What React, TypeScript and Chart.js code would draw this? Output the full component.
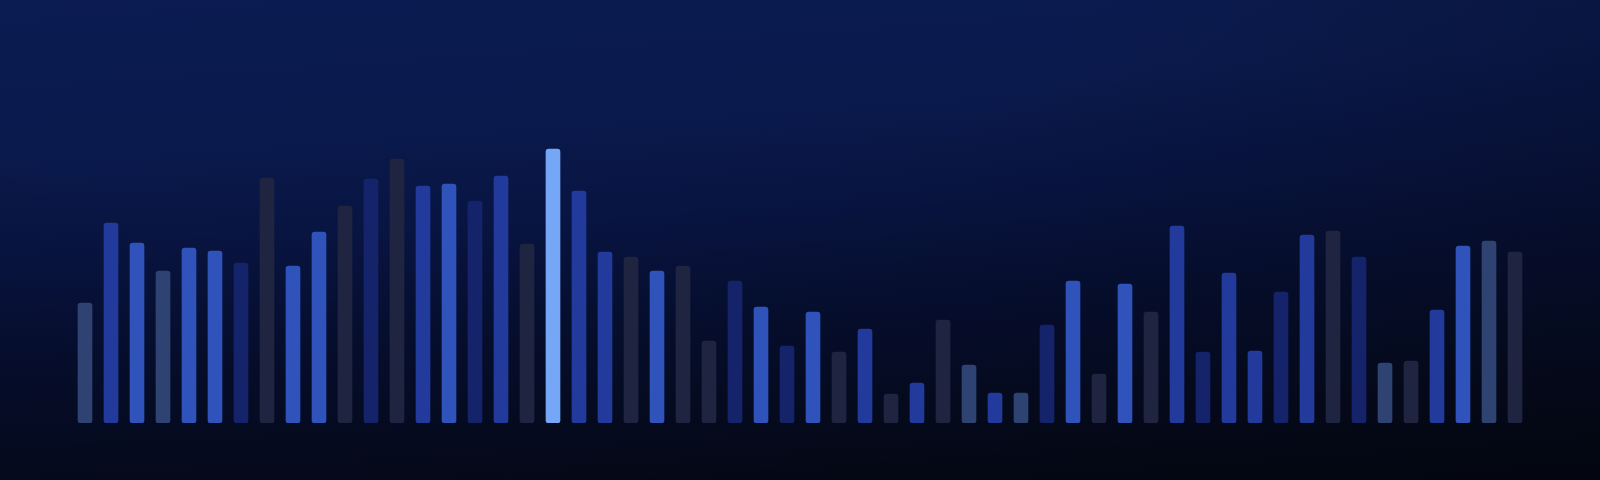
import { useEffect, useRef } from 'react';
import { Chart, registerables } from 'chart.js';

Chart.register(...registerables);

// ─── Data ─────────────────────────────────────────────────────────────────────

const LABELS = Array.from({ length: 56 }, (_, i) => `${i + 1}`);

const VALUES = [
  120, 200, 180, 152, 175, 172, 160, 245, 157, 191,
  217, 244, 264, 237, 239, 222, 247, 179, 274, 232,
  171, 166, 152, 157, 82, 142, 116, 77, 111, 71,
  94, 29, 40, 103, 58, 30, 30, 98, 142, 49,
  139, 111, 197, 71, 150, 72, 131, 188, 192, 166,
  60, 62, 113, 177, 182, 171,
];

// s = slate, m = mid blue, b = bright blue, n = dark navy, g = grey, h = highlight
const TONES = [
  's', 'm', 'b', 's', 'b', 'b', 'n', 'g', 'b', 'b',
  'g', 'n', 'g', 'm', 'b', 'n', 'm', 'g', 'h', 'm',
  'm', 'g', 'b', 'g', 'g', 'n', 'b', 'n', 'b', 'g',
  'm', 'g', 'm', 'g', 's', 'm', 's', 'n', 'b', 'g',
  'b', 'g', 'm', 'n', 'm', 'm', 'n', 'm', 'g', 'n',
  's', 'g', 'm', 'b', 's', 'g',
];

const PALETTE: Record<string, string> = {
  s: '#2e4371',
  m: '#223a9b',
  b: '#2f53bb',
  n: '#15246a',
  g: '#1f2540',
  h: '#76a7f6',
};

// ─── Bars ─────────────────────────────────────────────────────────────────────

function BarsChart() {
  const canvasRef = useRef<HTMLCanvasElement>(null);
  const chartRef  = useRef<Chart | null>(null);

  useEffect(() => {
    if (!canvasRef.current) return;

    const existing = Chart.getChart(canvasRef.current);
    if (existing) existing.destroy();
    chartRef.current?.destroy();

    chartRef.current = new Chart(canvasRef.current, {
      type: 'bar',
      data: {
        labels: LABELS,
        datasets: [{
          data: VALUES,
          backgroundColor: TONES.map(t => PALETTE[t]),
          borderWidth: 0,
          borderRadius: 3,
          borderSkipped: false,
          barThickness: 14,
        }],
      },
      options: {
        responsive: true,
        maintainAspectRatio: false,
        animation: false,
        layout: { padding: { top: 123, bottom: 57, left: 72, right: 72 } },
        plugins: {
          legend: { display: false },
          tooltip: { enabled: false },
        },
        scales: {
          x: { display: false, grid: { display: false } },
          y: { display: false, min: 0, max: 300, grid: { display: false } },
        },
      },
    });

    return () => { chartRef.current?.destroy(); chartRef.current = null; };
  }, []);

  return <canvas ref={canvasRef} />;
}

export default function App() {
  return (
    <div
      style={{
        position: 'fixed',
        left: 0,
        top: 0,
        width: 1600,
        height: 480,
        background: [
          'radial-gradient(ellipse 110% 130% at 28% 0%, rgba(3,6,16,0) 35%, rgba(3,6,16,0.45) 100%)',
          'linear-gradient(176deg, #0b1c52 0%, #0a1a4d 25%, #081441 45%, #060e2e 66%, #050a1c 86%, #04070f 100%)',
        ].join(', '),
      }}
    >
      <div style={{ position: 'absolute', inset: 0 }}>
        <BarsChart />
      </div>
    </div>
  );
}
